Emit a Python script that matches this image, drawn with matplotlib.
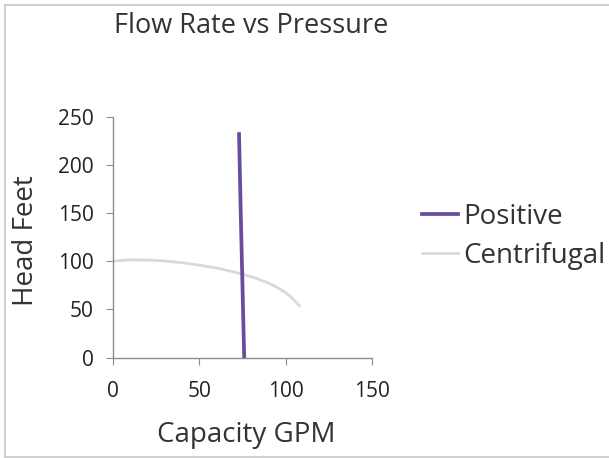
import numpy as np
import matplotlib
matplotlib.use("Agg")
import matplotlib.pyplot as plt
from matplotlib.lines import Line2D

# Data
positive_gpm = [73, 74, 75, 76]
positive_head = [232, 150, 75, 0]

centrifugal_gpm = [0, 10, 20, 30, 40, 50, 60, 70, 80, 85, 90, 95, 100, 104, 108]
centrifugal_head = [100.3, 101.5, 101.3, 100.3, 98.5, 96, 93, 89, 84, 81, 77.5, 73, 67.5, 61.5, 54]

x_ticks = [0, 50, 100, 150]
y_ticks = [0, 50, 100, 150, 200, 250]

plt.rcParams['font.family'] = ['Open Sans', 'DejaVu Sans']

fig = plt.figure(figsize=(6.09, 4.58), dpi=100)
ax = fig.add_axes([0.186, 0.219, 0.4243, 0.5262])

ax.plot(centrifugal_gpm, centrifugal_head, color='#d9d9d9', linewidth=2, label='Centrifugal')
ax.plot(positive_gpm, positive_head, color='#6a4c9c', linewidth=2.7, label='Positive')

ax.set_xlim(0, 150)
ax.set_ylim(0, 250)
ax.set_xticks(x_ticks)
ax.set_yticks(y_ticks)

for s in ['top', 'right']:
    ax.spines[s].set_visible(False)
for s in ['left', 'bottom']:
    ax.spines[s].set_color('#8c8c8c')
    ax.spines[s].set_linewidth(1)
ax.tick_params(colors='#8c8c8c', labelcolor='#222222', labelsize=15, length=5)
ax.tick_params(axis='y', pad=9)
ax.tick_params(axis='x', pad=12)

# axis labels and title placed in figure pixels
W, H = 609, 458
fig.text(251.5 / W, 1 - 33 / H, 'Flow Rate vs Pressure', fontsize=19.5, color='#333333',
         ha='center', va='baseline')
fig.text(246 / W, 1 - 442 / H, 'Capacity GPM', fontsize=20, color='#333333',
         ha='center', va='baseline')
fig.text(33 / W, 1 - 241 / H, 'Head Feet', fontsize=20, color='#333333',
         ha='center', va='baseline', rotation=90, rotation_mode='anchor')

handles = [Line2D([], [], color='#6a4c9c', linewidth=2.7),
           Line2D([], [], color='#d9d9d9', linewidth=2)]
fig.legend(handles, ['Positive', 'Centrifugal'], loc='center left',
           bbox_to_anchor=(422 / W, 1 - 236.5 / H), frameon=False, fontsize=20,
           handlelength=1.3, handletextpad=0.18, labelspacing=0.4,
           borderpad=0, borderaxespad=0, labelcolor='#333333')

# thin frame around the image
frame = dict(transform=fig.transFigure, color='#d0d0d0', linewidth=1.5)
fig.add_artist(Line2D([0.009, 0.009], [0.003, 0.99], **frame))
fig.add_artist(Line2D([0.009, 1], [0.99, 0.99], **frame))
fig.add_artist(Line2D([0.009, 1], [0.003, 0.003], **frame))

fig.savefig('out.png', dpi=100)
